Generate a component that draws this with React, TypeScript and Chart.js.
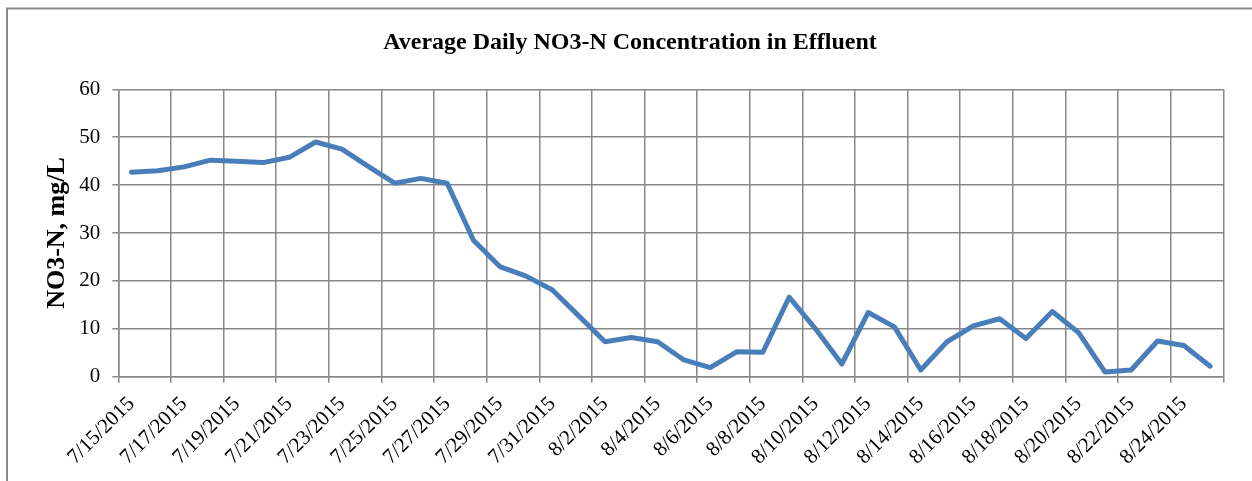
import React, { useEffect, useRef } from "react";
import { Chart, registerables } from "chart.js";

Chart.register(...registerables);

const chartTitle = "Average Daily NO3-N Concentration in Effluent";
const yAxisTitle = "NO3-N, mg/L";

const dates = [
  "7/15/2015", "7/16/2015", "7/17/2015", "7/18/2015", "7/19/2015", "7/20/2015",
  "7/21/2015", "7/22/2015", "7/23/2015", "7/24/2015", "7/25/2015", "7/26/2015",
  "7/27/2015", "7/28/2015", "7/29/2015", "7/30/2015", "7/31/2015", "8/1/2015",
  "8/2/2015", "8/3/2015", "8/4/2015", "8/5/2015", "8/6/2015", "8/7/2015",
  "8/8/2015", "8/9/2015", "8/10/2015", "8/11/2015", "8/12/2015", "8/13/2015",
  "8/14/2015", "8/15/2015", "8/16/2015", "8/17/2015", "8/18/2015", "8/19/2015",
  "8/20/2015", "8/21/2015", "8/22/2015", "8/23/2015", "8/24/2015", "8/25/2015",
];

const no3nValues = [
  42.7, 43.0, 43.8, 45.2, 45.0, 44.7, 45.8, 49.0, 47.5, 43.9, 40.4, 41.4,
  40.4, 28.5, 23.0, 21.0, 18.1, 12.7, 7.3, 8.2, 7.3, 3.5, 1.9, 5.2,
  5.1, 16.6, 10.0, 2.65, 13.4, 10.4, 1.4, 7.3, 10.6, 12.1, 8.0, 13.6,
  9.2, 1.0, 1.4, 7.45, 6.5, 2.2,
];

const yMin = 0;
const yMax = 60;
const yStep = 10;

const GRID = "#888888";
const LINE = "#4A7EBB";
const SERIF = "'Liberation Serif', 'Times New Roman', serif";

const framePlugin = {
  id: "frame",
  beforeDraw(chart: any) {
    const ctx = chart.ctx;
    ctx.save();
    ctx.strokeStyle = "#8c8c8c";
    ctx.lineWidth = 2;
    ctx.beginPath();
    ctx.moveTo(7, chart.height);
    ctx.lineTo(7, 8.5);
    ctx.lineTo(chart.width, 8.5);
    ctx.stroke();
    ctx.restore();
  },
};

export default function App() {
  const ref = useRef<HTMLCanvasElement | null>(null);

  useEffect(() => {
    if (!ref.current) return;
    const chart = new Chart(ref.current, {
      type: "line",
      data: {
        labels: dates,
        datasets: [
          {
            label: yAxisTitle,
            data: no3nValues,
            borderColor: LINE,
            backgroundColor: LINE,
            borderWidth: 5,
            borderJoinStyle: "round",
            borderCapStyle: "round",
            pointRadius: 0,
            tension: 0,
            fill: false,
          },
        ],
      },
      options: {
        responsive: false,
        animation: false,
        devicePixelRatio: 1,
        layout: { padding: { left: 36.7, top: 8, right: 28.7, bottom: 0 } },
        plugins: {
          legend: { display: false },
          tooltip: { enabled: false },
          title: {
            display: true,
            text: chartTitle,
            color: "#000",
            font: { family: SERIF, size: 24, weight: "bold" },
            padding: { top: 20.6, bottom: 31.9 },
          },
        },
        scales: {
          x: {
            type: "category",
            offset: true,
            afterFit: (scale: any) => {
              scale.height = 104.3;
            },
            grid: {
              offset: true,
              color: (ctx: any) =>
                ctx.index === undefined || ctx.index % 2 === 0 ? GRID : "rgba(0,0,0,0)",
              lineWidth: 1.5,
              tickLength: 6,
              drawTicks: true,
            },
            border: { display: true, color: GRID, width: 1.5 },
            ticks: {
              autoSkip: false,
              maxRotation: 45,
              minRotation: 45,
              labelOffset: 0,
              padding: 9,
              color: "#000",
              font: { family: SERIF, size: 21 },
              callback: (_v: any, i: number) => (i % 2 === 0 ? dates[i] : ""),
            },
          },
          y: {
            min: yMin,
            max: yMax,
            afterFit: (scale: any) => {
              scale.width = 81.6;
            },
            grid: { color: GRID, lineWidth: 1.5, tickLength: 6 },
            border: { display: true, color: GRID, width: 1.5 },
            ticks: {
              stepSize: yStep,
              padding: 12,
              color: "#000",
              font: { family: SERIF, size: 21 },
            },
            title: {
              display: true,
              text: yAxisTitle,
              color: "#000",
              font: { family: SERIF, size: 26, weight: "bold" },
              padding: { top: 5.3, bottom: 0 },
            },
          },
        },
      },
      plugins: [framePlugin],
    });
    return () => chart.destroy();
  }, []);

  return (
    <div style={{ position: "fixed", left: 0, top: 0, width: 1252, height: 481, background: "#fff" }}>
      <canvas ref={ref} width={1252} height={481} style={{ display: "block" }} />
    </div>
  );
}
